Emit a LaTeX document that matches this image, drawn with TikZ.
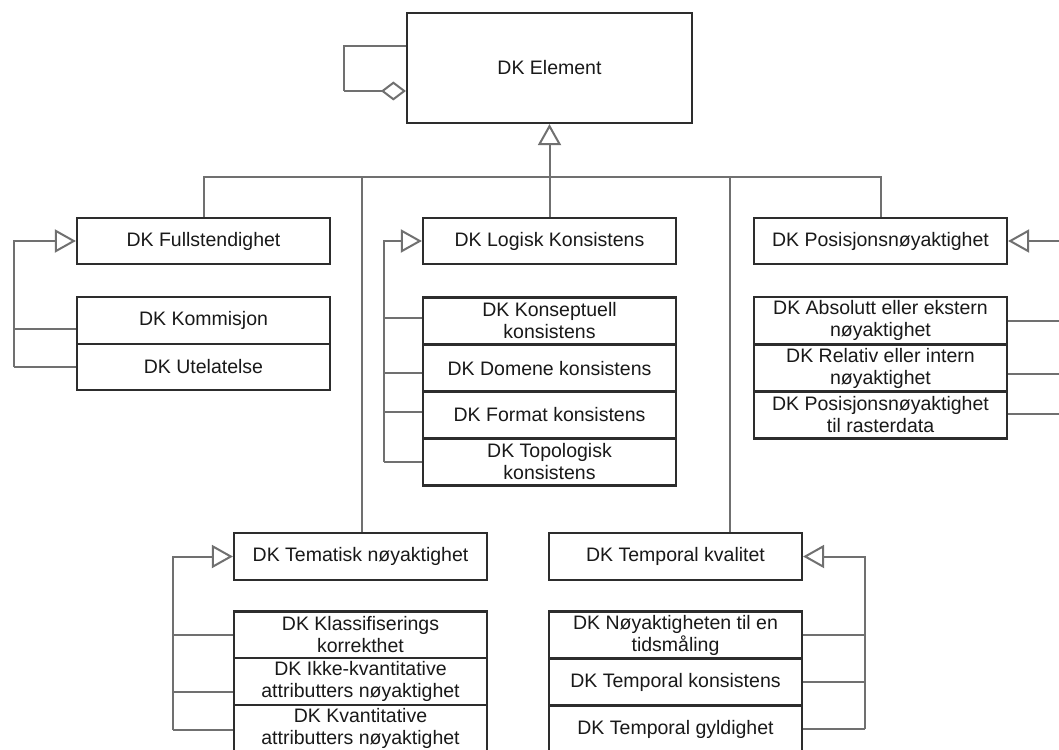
\documentclass[tikz,border=0pt]{standalone}
\usepackage{fontspec}
\setmainfont{Liberation Sans}
\usetikzlibrary{arrows.meta}
\definecolor{boxline}{RGB}{45,45,45}
\definecolor{connline}{RGB}{112,112,112}
\tikzset{
  cls/.style={draw=boxline, line width=2.2pt, fill=white, minimum width=253pt,
    minimum height=47pt, inner sep=0pt, align=center,
    font=\fontsize{19.5}{22}\selectfont, text=black!90},
  conn/.style={draw=connline, line width=2pt},
  gen/.style={-{Triangle[open,length=21pt,width=23pt]}},
  agg/.style={-{Diamond[open,length=25pt,width=19pt]}},
}
\begin{document}
\begin{tikzpicture}[x=1pt,y=-1pt]
\useasboundingbox (0,0) rectangle (1059,749);
\clip (0,0) rectangle (1059,749);
\fill[white] (0,0) rectangle (1059,749);

% root class
\node[cls, minimum width=285pt, minimum height=110pt] (el) at (549.5,68) {DK Element};

% first row of subclasses
\node[cls, minimum height=46pt] (fu) at (203.5,241) {DK Fullstendighet};
\node[cls, minimum height=46pt] (lk) at (549.5,241) {DK Logisk Konsistens};
\node[cls, minimum height=46pt] (po) at (880.5,241) {DK Posisjonsnøyaktighet};

% completeness
\node[cls] (fu1) at (203.5,320.5) {DK Kommisjon};
\node[cls, minimum height=46pt] (fu2) at (203.5,367) {DK Utelatelse};

% logical consistency
\node[cls] (lk1) at (549.5,321) {DK Konseptuell\\konsistens};
\node[cls] (lk2) at (549.5,368.3) {DK Domene konsistens};
\node[cls] (lk3) at (549.5,415) {DK Format konsistens};
\node[cls] (lk4) at (549.5,462) {DK Topologisk\\konsistens};

% positional accuracy
\node[cls] (po1) at (880.5,320.7) {DK Absolutt eller ekstern\\nøyaktighet};
\node[cls] (po2) at (880.5,368) {DK Relativ eller intern\\nøyaktighet};
\node[cls] (po3) at (880.5,415) {DK Posisjonsnøyaktighet\\til rasterdata};

% second row of subclasses
\node[cls] (te) at (360.5,556.5) {DK Tematisk nøyaktighet};
\node[cls] (tk) at (675.5,556.5) {DK Temporal kvalitet};

% thematic accuracy
\node[cls] (te1) at (360.5,635) {DK Klassifiserings\\korrekthet};
\node[cls] (te2) at (360.5,681.5) {DK Ikke-kvantitative\\attributters nøyaktighet};
\node[cls] (te3) at (360.5,728.5) {DK Kvantitative\\attributters nøyaktighet};

% temporal quality
\node[cls] (tk1) at (675.5,635) {DK Nøyaktigheten til en\\tidsmåling};
\node[cls] (tk2) at (675.5,682) {DK Temporal konsistens};
\node[cls] (tk3) at (675.5,729.5) {DK Temporal gyldighet};

% self aggregation of the root class
\coordinate (aggA) at (344,46);
\coordinate (aggB) at (344,91);
\draw[conn] (el.west |- aggA) -- (aggA) -- (aggB);
\draw[conn,agg] (aggB) -- (el.west |- aggB);

% generalisation of the first-level classes
\coordinate (bus) at (549.5,177);
\draw[conn,gen] (bus) -- (el.south);
\draw[conn] (fu.north) -- (fu.north |- bus) -- (po.north |- bus) -- (po.north);
\draw[conn] (lk.north |- bus) -- (lk.north);
\coordinate (teTop) at ([xshift=1.5pt]te.north);
\coordinate (tkTop) at ([xshift=54.5pt]tk.north);
\draw[conn] (teTop |- bus) -- (teTop);
\draw[conn] (tkTop |- bus) -- (tkTop);

% attachment points of the subclass branches (the y axis points down)
\coordinate (fu1p) at ([yshift=-8pt]fu1.west);
\coordinate (lk1p) at ([yshift=3pt]lk1.west);
\coordinate (lk2p) at ([yshift=-4.5pt]lk2.west);
\coordinate (lk3p) at ([yshift=3pt]lk3.west);
\coordinate (po2p) at ([yshift=-6pt]po2.east);
\coordinate (po3p) at ([yshift=1pt]po3.east);
\coordinate (te2p) at ([yshift=-10pt]te2.west);
\coordinate (te3p) at ([yshift=-1pt]te3.west);
\coordinate (tk3p) at ([yshift=1pt]tk3.east);

% completeness subclasses
\coordinate (fuX) at (14,0);
\draw[conn,gen] (fuX |- fu2.west) |- (fu.west);
\draw[conn] (fu1p) -- (fuX |- fu1p);
\draw[conn] (fu2.west) -- (fuX |- fu2.west);

% logical consistency subclasses
\coordinate (lkX) at (384,0);
\draw[conn,gen] (lkX |- lk4.west) |- (lk.west);
\draw[conn] (lk1p) -- (lkX |- lk1p);
\draw[conn] (lk2p) -- (lkX |- lk2p);
\draw[conn] (lk3p) -- (lkX |- lk3p);
\draw[conn] (lk4.west) -- (lkX |- lk4.west);

% positional accuracy subclasses
\coordinate (poX) at (1075,0);
\draw[conn,gen] (poX |- po3p) |- (po.east);
\draw[conn] (po1.east) -- (poX |- po1.east);
\draw[conn] (po2p) -- (poX |- po2p);
\draw[conn] (po3p) -- (poX |- po3p);

% thematic accuracy subclasses
\coordinate (teX) at (172.7,0);
\draw[conn,gen] (teX |- te3p) |- (te.west);
\draw[conn] (te1.west) -- (teX |- te1.west);
\draw[conn] (te2p) -- (teX |- te2p);
\draw[conn] (te3p) -- (teX |- te3p);

% temporal quality subclasses
\coordinate (tkX) at (865,0);
\draw[conn,gen] (tkX |- tk3p) |- (tk.east);
\draw[conn] (tk1.east) -- (tkX |- tk1.east);
\draw[conn] (tk2.east) -- (tkX |- tk2.east);
\draw[conn] (tk3p) -- (tkX |- tk3p);
\end{tikzpicture}
\end{document}
